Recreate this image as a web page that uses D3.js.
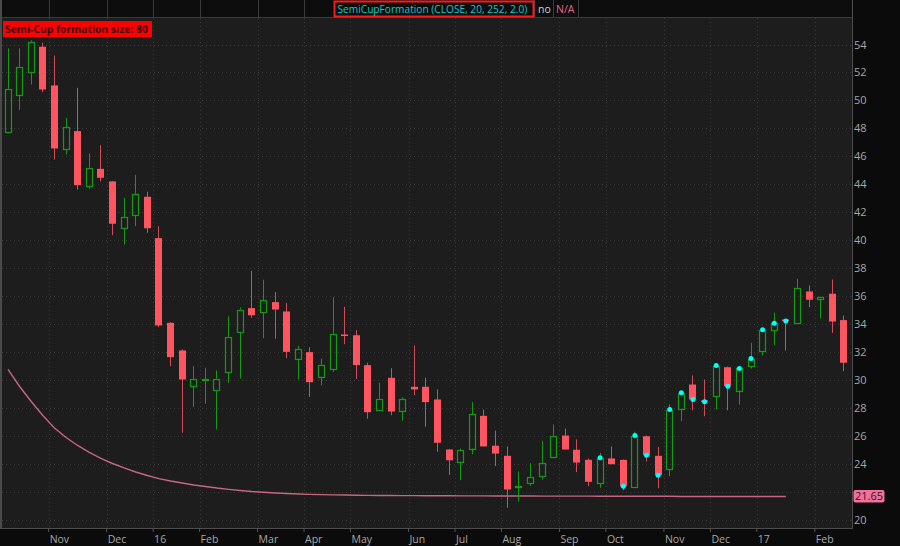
<!DOCTYPE html>
<html><head><meta charset="utf-8">
<script src="https://cdn.jsdelivr.net/npm/d3@7"></script>
<style>
html,body{margin:0;padding:0;background:#0b0b0b;}
svg{display:block;}
text{font-family:"Open Sans",sans-serif;}
</style></head><body>
<svg id="chart" width="900" height="546"></svg>
<script>
// ---------- DATA ----------
const dates = [
"2015-10-05","2015-10-12","2015-10-19","2015-10-26","2015-11-02","2015-11-09","2015-11-16","2015-11-23","2015-11-30","2015-12-07","2015-12-14","2015-12-21","2015-12-28",
"2016-01-04","2016-01-11","2016-01-18","2016-01-25","2016-02-01","2016-02-08","2016-02-15","2016-02-22","2016-02-29","2016-03-07","2016-03-14","2016-03-21","2016-03-28",
"2016-04-04","2016-04-11","2016-04-18","2016-04-25","2016-05-02","2016-05-09","2016-05-16","2016-05-23","2016-05-30","2016-06-06","2016-06-13","2016-06-20","2016-06-27",
"2016-07-04","2016-07-11","2016-07-18","2016-07-25","2016-08-01","2016-08-08","2016-08-15","2016-08-22","2016-08-29","2016-09-05","2016-09-12","2016-09-19","2016-09-26",
"2016-10-03","2016-10-10","2016-10-17","2016-10-24","2016-10-31","2016-11-07","2016-11-14","2016-11-21","2016-11-28","2016-12-05","2016-12-12","2016-12-19","2016-12-26",
"2017-01-02","2017-01-09","2017-01-16","2017-01-23","2017-01-30","2017-02-06","2017-02-13","2017-02-20"];

const open = [47.72,50.40,52.05,53.84,51.07,46.49,47.80,43.84,45.10,44.20,40.88,41.81,43.10,
40.14,34.08,32.10,29.54,30.00,29.26,30.54,33.41,35.13,34.82,35.56,34.89,31.52,31.98,30.21,30.74,33.24,
33.19,31.05,27.85,30.14,27.78,29.50,29.50,28.59,25.01,24.13,25.08,27.42,25.28,24.56,22.35,22.63,23.10,
24.46,26.01,24.99,24.27,22.60,24.37,24.27,22.31,25.96,24.56,23.58,27.92,29.66,28.52,28.83,30.90,29.23,
30.97,32.05,33.53,34.32,34.03,36.32,35.77,36.16,34.27];
const high = [53.72,53.72,54.31,54.12,53.21,48.75,50.90,46.20,46.79,44.22,43.03,44.67,43.46,
40.99,34.12,32.18,30.97,30.86,30.67,34.55,35.18,37.80,37.16,36.27,35.51,32.43,32.33,31.52,35.91,35.23,
33.55,31.22,29.79,30.83,28.75,32.46,30.14,29.31,25.05,25.08,28.40,27.87,26.37,25.23,23.44,24.03,25.63,
26.80,26.51,25.73,24.37,24.77,25.23,24.30,26.28,26.00,25.20,28.25,29.07,30.31,30.02,31.02,30.95,30.90,
32.65,33.60,34.80,34.35,37.23,36.75,35.95,37.18,34.60];
const low = [47.70,49.30,51.14,50.59,45.77,46.13,43.62,43.67,44.20,40.35,39.69,40.99,40.52,
33.77,30.97,26.21,28.07,28.28,26.44,29.79,30.09,34.44,32.98,32.94,31.55,30.02,28.78,29.59,30.57,32.55,
30.07,27.21,27.85,27.47,27.07,28.90,26.64,24.85,23.20,22.81,24.67,25.23,23.82,20.84,21.29,22.41,22.86,
24.39,25.01,23.39,22.38,22.27,23.96,22.08,22.31,24.15,22.24,23.10,27.04,27.82,27.39,27.87,27.82,28.23,
30.81,31.74,32.48,32.10,34.03,35.20,34.39,33.36,30.62];
const close = [50.83,52.40,54.20,50.78,46.56,48.08,43.93,45.18,44.46,41.17,41.64,43.31,40.85,
33.89,31.62,30.02,30.07,30.06,30.09,33.08,35.03,34.62,35.70,35.03,32.00,32.22,29.83,31.07,33.29,33.15,
31.05,27.68,28.64,27.73,28.64,29.31,28.40,25.49,24.24,24.94,27.52,25.23,24.72,22.15,22.40,23.06,24.06,
25.96,25.01,24.08,22.70,24.42,23.96,22.38,26.01,24.60,23.17,27.87,29.07,28.59,28.42,31.02,29.54,30.81,
31.52,33.58,34.05,34.20,36.59,35.73,35.91,34.17,31.22];

// SemiCupFormation plot (first 68 weeks)
const semiCup = [30.74,29.52,28.45,27.44,26.55,25.87,25.30,24.80,24.37,24.01,23.69,23.40,23.15,22.93,22.76,22.61,
22.47,22.36,22.25,22.16,22.08,22.00,21.95,21.90,21.86,21.83,21.80,21.78,21.76,21.75,21.74,21.73,21.72,21.72,
21.71,21.71,21.70,21.70,21.70,21.69,21.69,21.69,21.68,21.68,21.68,21.68,21.67,21.67,21.67,21.67,21.67,
21.66,21.66,21.66,21.66,21.66,21.66,21.66,21.65,21.65,21.65,21.65,21.65,21.65,21.65,21.65,21.65,21.65];

// weeks flagged with a cyan signal dot at the close
const signalWeeks = ["2016-09-26","2016-10-10","2016-10-17","2016-10-24","2016-10-31","2016-11-07","2016-11-14",
"2016-11-21","2016-11-28","2016-12-05","2016-12-12","2016-12-19","2016-12-26","2017-01-02","2017-01-09","2017-01-16"];

const tickDates = ["2015-11-02","2015-12-07","2016-01-04","2016-02-01","2016-03-07","2016-04-04","2016-05-02","2016-06-06",
"2016-07-04","2016-08-01","2016-09-05","2016-10-03","2016-11-07","2016-12-05","2017-01-02","2017-02-06"];
const tickLabels = ["Nov","Dec","16","Feb","Mar","Apr","May","Jun","Jul","Aug","Sep","Oct","Nov","Dec","17","Feb"];
const priceGrid = [20,22,24,26,28,30,32,34,36,38,40,42,44,46,48,50,52,54];
const priceLabels = [20,24,26,28,30,32,34,36,38,40,42,44,46,48,50,52,54]; // 22 hidden by the value bubble
const lastLabel = "21.65";
const studyTitle = "SemiCupFormation (CLOSE, 20, 252, 2.0)";
const studyValues = ["no","N/A"];
const sizeLabel = "Semi-Cup formation size: 80";

// ---------- DRAW ----------
const svg = d3.select("#chart");
const W = 900, H = 546;
const plotL = 1, plotR = 852, plotT = 17, plotB = 528;

const x = d3.scaleBand().domain(dates).range([2.2, 849.7]).paddingInner(0.35).paddingOuter(0.175);
const step = x.step();
const cx = d => x(d) + x.bandwidth() / 2;
const y = d3.scaleLinear().domain([20, 54]).range([519.5, 44.5]);
const crisp = v => Math.round(v) + 0.5;

// fit a text to a width by adjusting its font size
function fitText(sel, width, base) {
  const n = sel.node();
  const w = n.getComputedTextLength();
  sel.style("font-size", (base * width / w).toFixed(2) + "px");
}

svg.append("rect").attr("width", W).attr("height", H).attr("fill", "#0b0b0b");
svg.append("rect").attr("x", plotL).attr("y", plotT).attr("width", plotR - plotL).attr("height", plotB - plotT).attr("fill", "#1d1d1d");

// header band
svg.append("rect").attr("x", 0).attr("y", 0).attr("width", plotR).attr("height", plotT).attr("fill", "#0d0d0d");
const hdrLines = tickDates.map(d => crisp(cx(d) - step / 2)).filter(v => v < 334).concat([534.5, 553.5, 578.5]);
svg.append("g").selectAll("line").data(hdrLines).join("line")
  .attr("x1", d => d).attr("x2", d => d).attr("y1", 0).attr("y2", plotT)
  .attr("stroke", "#3a3a3a").attr("stroke-width", 1);
svg.append("line").attr("x1", 0).attr("x2", plotR).attr("y1", plotT + 0.5).attr("y2", plotT + 0.5).attr("stroke", "#3a3a3a");

// grid
const grid = svg.append("g");
grid.selectAll("line.h").data(priceGrid).join("line").attr("class", "h")
  .attr("x1", plotL + 1).attr("x2", plotR).attr("y1", d => crisp(y(d))).attr("y2", d => crisp(y(d)))
  .attr("stroke", "#3b3b3b").attr("stroke-dasharray", "1,3");
grid.selectAll("line.v").data(tickDates).join("line").attr("class", "v")
  .attr("x1", d => crisp(cx(d) - step / 2)).attr("x2", d => crisp(cx(d) - step / 2))
  .attr("y1", plotT + 1).attr("y2", plotB)
  .attr("stroke", "#3b3b3b").attr("stroke-dasharray", "1,3");

// borders
svg.append("line").attr("x1", 1).attr("x2", 1).attr("y1", 0).attr("y2", plotB).attr("stroke", "#4a4a4a").attr("stroke-width", 2);
svg.append("line").attr("x1", 0).attr("x2", plotR + 1).attr("y1", plotB + 0.5).attr("y2", plotB + 0.5).attr("stroke", "#4d4d4d");
svg.append("line").attr("x1", plotR + 0.5).attr("x2", plotR + 0.5).attr("y1", 0).attr("y2", plotB).attr("stroke", "#4d4d4d");

// semi-cup line
const scData = semiCup.map((v, i) => [dates[i], v]);
svg.append("path").datum(scData)
  .attr("d", d3.line().x(d => cx(d[0])).y(d => y(d[1])))
  .attr("fill", "none").attr("stroke", "#c8657f").attr("stroke-width", 1.4);

// candles
const candles = dates.map((d, i) => ({d, o: open[i], h: high[i], l: low[i], c: close[i]}));
const RED = "#ff5560", REDW = "#d24c5a", GRN = "#149a14";
const cg = svg.append("g");
candles.forEach(k => {
  const up = k.c >= k.o;
  const L = Math.round(cx(k.d) - 3.5);
  const wx = L + 3.5;
  const top = y(Math.max(k.o, k.c)), bot = y(Math.min(k.o, k.c));
  if (up) {
    cg.append("line").attr("x1", wx).attr("x2", wx).attr("y1", y(k.h)).attr("y2", top).attr("stroke", GRN);
    cg.append("line").attr("x1", wx).attr("x2", wx).attr("y1", bot).attr("y2", y(k.l)).attr("stroke", GRN);
    const t = Math.round(top) + 0.5, b = Math.max(Math.round(bot) + 0.5, t + 1);
    cg.append("rect").attr("x", L + 0.5).attr("y", t).attr("width", 6).attr("height", b - t)
      .attr("fill", "none").attr("stroke", GRN).attr("stroke-width", 1.2);
  } else {
    cg.append("line").attr("x1", wx).attr("x2", wx).attr("y1", y(k.h)).attr("y2", y(k.l)).attr("stroke", REDW);
    cg.append("rect").attr("x", L).attr("y", top).attr("width", 7).attr("height", Math.max(bot - top, 1.5))
      .attr("fill", RED);
  }
});

// signal dots
svg.append("g").selectAll("circle").data(signalWeeks).join("circle")
  .attr("cx", d => cx(d)).attr("cy", d => y(close[dates.indexOf(d)])).attr("r", 2.5)
  .attr("fill", "#00ffff");

// x axis
const xAxis = d3.axisBottom(x).tickValues(tickDates).tickFormat((d, i) => tickLabels[i]).tickSize(4).tickPadding(3);
const gx = svg.append("g").attr("transform", `translate(${-step / 2},${plotB})`).call(xAxis);
gx.select(".domain").remove();
gx.selectAll(".tick line").attr("stroke", "#555");
gx.selectAll(".tick text").attr("text-anchor", "start").attr("x", 1).attr("dy", "0.72em")
  .attr("fill", "#a6a6a6").style("font-size", "10.5px").style("font-family", "'Open Sans',sans-serif");

// y axis
const yAxis = d3.axisRight(y).tickValues(priceLabels).tickSize(0).tickPadding(2).tickFormat(d3.format("d"));
const gy = svg.append("g").attr("transform", `translate(${plotR},0)`).call(yAxis);
gy.select(".domain").remove();
gy.selectAll(".tick text").attr("fill", "#a6a6a6").style("font-size", "11px").style("font-family", "'Open Sans',sans-serif");

// last value bubble
const ly = y(semiCup[semiCup.length - 1]);
svg.append("rect").attr("x", 853.5).attr("y", ly - 6.5).attr("width", 31).attr("height", 12.5).attr("rx", 2)
  .attr("fill", "#f0729a");
svg.append("text").attr("x", 869).attr("y", ly).attr("dy", "0.35em").attr("text-anchor", "middle")
  .attr("fill", "#4a0a1e").style("font-size", "11px").text(lastLabel);

// header study label
svg.append("rect").attr("x", 334.5).attr("y", 1.5).attr("width", 199).attr("height", 15)
  .attr("fill", "none").attr("stroke", "#ff1a1a").attr("stroke-width", 2);
const tt = svg.append("text").attr("x", 337.5).attr("y", 12.5).attr("fill", "#10cccc").style("font-size", "11px").text(studyTitle);
fitText(tt, 190, 11);
svg.append("text").attr("x", 538).attr("y", 12.5).attr("fill", "#cfcfcf").style("font-size", "10.5px").text(studyValues[0]);
svg.append("text").attr("x", 556).attr("y", 12.5).attr("fill", "#e06a8c").style("font-size", "10.5px").text(studyValues[1]);

// size label
svg.append("rect").attr("x", 3).attr("y", 21).attr("width", 149).attr("height", 16).attr("fill", "#ff0000");
const sl = svg.append("text").attr("x", 5).attr("y", 33).attr("fill", "#3a0000").style("font-size", "11px").style("font-weight", "bold").text(sizeLabel);
fitText(sl, 143, 11);
</script>
</body></html>
